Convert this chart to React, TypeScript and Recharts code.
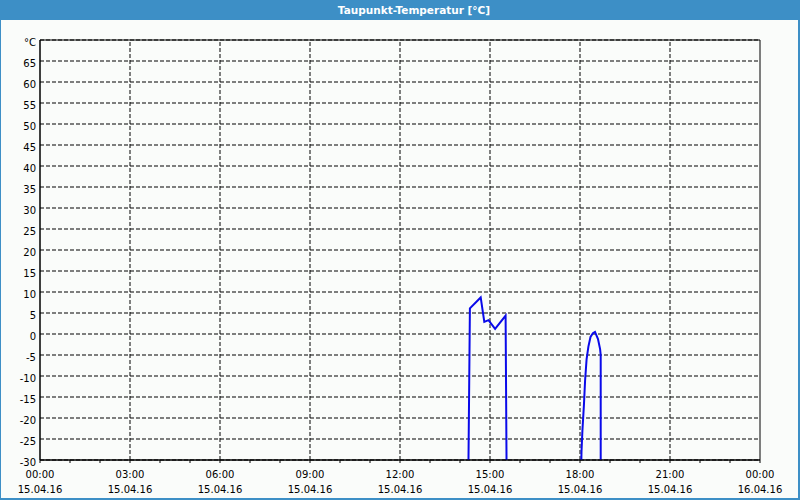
import {
  CartesianGrid,
  Line,
  LineChart,
  ReferenceArea,
  ReferenceLine,
  XAxis,
  YAxis,
} from "recharts";

// hours since 15.04.16 00:00, dew point in °C (values below -30 run off the plot)
const SEG1_HOURS = [14.27, 14.33, 14.69, 14.81, 14.95, 15.17, 15.52, 15.56];
const SEG1_VALUES = [-40, 6.1, 8.7, 2.9, 3.3, 1.2, 4.4, -40];
const SEG2_HOURS = [18.02, 18.05, 18.08, 18.13, 18.17, 18.22, 18.28, 18.35, 18.43, 18.5, 18.6, 18.67, 18.69, 18.69];
const SEG2_VALUES = [-40, -28, -23, -17, -11, -6, -3, -0.7, 0.2, 0.5, -1.2, -3.6, -5, -40];

const HOUR_TICKS = Array.from({ length: 25 }, (_, i) => i);
const GRID_HOURS = [3, 6, 9, 12, 15, 18, 21];
const Y_TICKS = [-30, -25, -20, -15, -10, -5, 0, 5, 10, 15, 20, 25, 30, 35, 40, 45, 50, 55, 60, 65, 70];
const TIME_LABELS: Record<number, [string, string]> = {
  0: ["00:00", "15.04.16"],
  3: ["03:00", "15.04.16"],
  6: ["06:00", "15.04.16"],
  9: ["09:00", "15.04.16"],
  12: ["12:00", "15.04.16"],
  15: ["15:00", "15.04.16"],
  18: ["18:00", "15.04.16"],
  21: ["21:00", "15.04.16"],
  24: ["00:00", "16.04.16"],
};

const seg1 = SEG1_HOURS.map((t, i) => ({ t, v: SEG1_VALUES[i] }));
const seg2 = SEG2_HOURS.map((t, i) => ({ t, v: SEG2_VALUES[i] }));

const FONT = "'DejaVu Sans', Verdana, sans-serif";
const BLUE = "#3d8fc6";

function TimeTick({ x, y, payload }: any) {
  const lbl = TIME_LABELS[payload.value];
  if (!lbl) return null;
  return (
    <g>
      <text x={x} y={y} dy={13} textAnchor="middle" fontSize={10} fill="#000" fontFamily={FONT}>
        {lbl[0]}
      </text>
      <text x={x} y={y} dy={28} textAnchor="middle" fontSize={10} fill="#000" fontFamily={FONT}>
        {lbl[1]}
      </text>
    </g>
  );
}

function TempTick({ x, y, payload }: any) {
  return (
    <text x={x} y={y} dy={6} textAnchor="end" fontSize={10} fill="#000" fontFamily={FONT}>
      {payload.value === 70 ? "°C" : payload.value}
    </text>
  );
}

export default function App() {
  return (
    <div
      style={{
        position: "absolute",
        left: 0,
        top: 0,
        width: 800,
        height: 500,
        background: BLUE,
        fontFamily: FONT,
      }}
    >
      <div
        style={{
          height: 20,
          lineHeight: "20px",
          textAlign: "center",
          color: "#fff",
          fontSize: 10.5,
          fontWeight: "bold",
          paddingLeft: 28,
        }}
      >
        Taupunkt-Temperatur [°C]
      </div>
      <div style={{ position: "absolute", left: 1, top: 20, width: 797, height: 478, background: "#fafcfa" }}>
        <LineChart width={797} height={478} margin={{ top: 20, right: 38, bottom: 0, left: 0 }}>
          <CartesianGrid stroke="#000" strokeDasharray="4 2" vertical={false} />
          <XAxis
            type="number"
            dataKey="t"
            domain={[0, 24]}
            ticks={HOUR_TICKS}
            interval={0}
            height={38}
            tickSize={3}
            tickMargin={2}
            stroke="#000"
            tick={<TimeTick />}
          />
          <YAxis
            type="number"
            dataKey="v"
            domain={[-30, 70]}
            ticks={Y_TICKS}
            interval={0}
            allowDataOverflow
            width={39}
            tickSize={0}
            tickMargin={4}
            tickLine={false}
            stroke="#000"
            tick={<TempTick />}
          />
          {GRID_HOURS.map((h) => (
            <ReferenceLine key={h} x={h} stroke="#000" strokeDasharray="4 2" />
          ))}
          <ReferenceArea x1={0} x2={24} y1={-30} y2={70} fill="none" stroke="#000" strokeWidth={1} />
          <Line data={seg1} dataKey="v" stroke="#0a0aea" strokeWidth={2} dot={false} isAnimationActive={false} />
          <Line data={seg2} dataKey="v" stroke="#0a0aea" strokeWidth={2} dot={false} isAnimationActive={false} />
        </LineChart>
      </div>
    </div>
  );
}
